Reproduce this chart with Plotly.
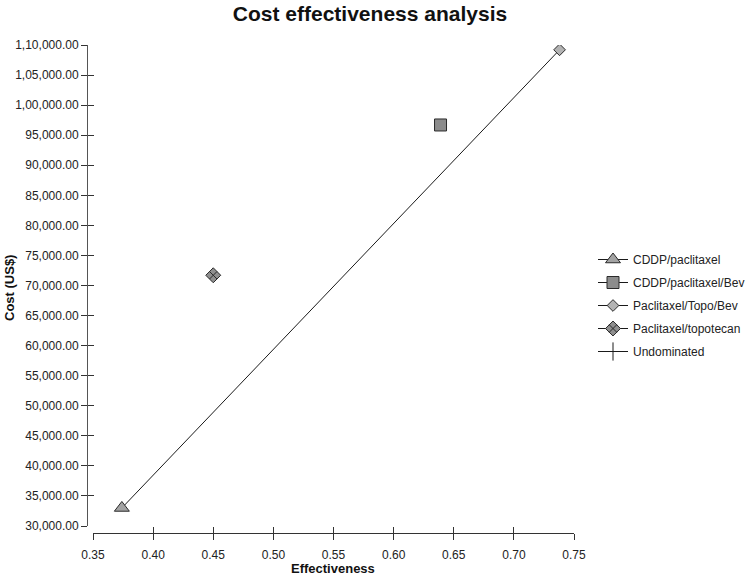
import plotly.graph_objects as go

# ---- data ----
strategies = ["CDDP/paclitaxel", "CDDP/paclitaxel/Bev", "Paclitaxel/Topo/Bev", "Paclitaxel/topotecan"]
effectiveness = [0.374, 0.639, 0.738, 0.450]
cost = [33000, 96700, 109200, 71700]
symbols = ["triangle-up", "square", "diamond", "diamond-x"]
fills = ["#a3a3a3", "#8c8c8c", "#b3b3b3", "#8f8f8f"]
sizes = [13, 12, 9, 11.5]

undominated_x = [0.374, 0.738]
undominated_y = [33000, 109200]

x_ticks = [0.35, 0.40, 0.45, 0.50, 0.55, 0.60, 0.65, 0.70, 0.75]
x_tick_labels = ["0.35", "0.40", "0.45", "0.50", "0.55", "0.60", "0.65", "0.70", "0.75"]
y_ticks = [30000, 35000, 40000, 45000, 50000, 55000, 60000, 65000, 70000, 75000,
           80000, 85000, 90000, 95000, 100000, 105000, 110000]
y_tick_labels = ["30,000.00", "35,000.00", "40,000.00", "45,000.00", "50,000.00",
                 "55,000.00", "60,000.00", "65,000.00", "70,000.00", "75,000.00",
                 "80,000.00", "85,000.00", "90,000.00", "95,000.00", "1,00,000.00",
                 "1,05,000.00", "1,10,000.00"]

W, H = 748, 576
L, R, T, B = 87, 174, 45, 43
pw, ph = W - L - R, H - T - B

fig = go.Figure()

# undominated frontier line
fig.add_trace(go.Scatter(x=undominated_x, y=undominated_y, mode="lines",
                         line=dict(color="#1a1a1a", width=1), showlegend=False,
                         hoverinfo="skip"))

for s, ex, c, sym, f, sz in zip(strategies, effectiveness, cost, symbols, fills, sizes):
    fig.add_trace(go.Scatter(x=[ex], y=[c], name=s, mode="lines+markers",
                             line=dict(color="#1a1a1a", width=1),
                             marker=dict(symbol=sym, size=sz, color=f,
                                         line=dict(color="#2a2a2a", width=1)),
                             legendgroup=s))

# legend entry for the undominated line
fig.add_trace(go.Scatter(x=[None], y=[None], name="Undominated", mode="lines+markers",
                         line=dict(color="#1a1a1a", width=1),
                         marker=dict(symbol="line-ns", size=13,
                                     line=dict(color="#1a1a1a", width=1)),
                         legendgroup="Undominated"))

xd0 = 6 / pw
yd0 = 7 / ph
base = "Liberation Sans, Arial, sans-serif"
tickfont = dict(family=base, size=12, color="#222")

fig.update_layout(
    width=W, height=H,
    margin=dict(l=L, r=R, t=T, b=B, autoexpand=False),
    paper_bgcolor="white", plot_bgcolor="white",
    title=dict(text="<b>Cost effectiveness analysis</b>", x=370 / W, xanchor="center",
               y=1 - 14 / H, yanchor="middle",
               font=dict(family="Liberation Sans Narrow, Arial Narrow, Liberation Sans, sans-serif",
                         size=21, color="#111")),
    xaxis=dict(domain=[xd0, 1], range=[0.35, 0.75], anchor="free", position=0,
               tickvals=x_ticks, ticktext=x_tick_labels, ticks="outside", ticklen=6,
               ticklabelstandoff=5,
               tickcolor="#333", showline=True, linecolor="#333", linewidth=1,
               showgrid=False, zeroline=False, tickfont=tickfont),
    yaxis=dict(domain=[yd0, 1], range=[30000, 110000], anchor="free", position=0,
               tickvals=y_ticks, ticktext=y_tick_labels, ticks="outside", ticklen=6,
               tickcolor="#333", showline=True, linecolor="#555", linewidth=1,
               showgrid=False, zeroline=False, tickfont=tickfont),
    xaxis2=dict(domain=[xd0, 1], range=[0.35, 0.75], anchor="free", position=0,
                overlaying="x", tickvals=x_ticks, ticks="inside", ticklen=6,
                tickcolor="#333", showticklabels=False, showgrid=False, zeroline=False),
    yaxis2=dict(domain=[yd0, 1], range=[30000, 110000], anchor="free", position=0,
                overlaying="y", tickvals=y_ticks, ticks="inside", ticklen=6,
                tickcolor="#333", showticklabels=False, showgrid=False, zeroline=False),
    legend=dict(x=(593 - L) / pw, xanchor="left", y=1 - (245 - T) / ph, yanchor="top",
                font=dict(family=base, size=12, color="#222"),
                tracegroupgap=4, bgcolor="rgba(0,0,0,0)"),
    showlegend=True,
    annotations=[
        dict(text="<b>Effectiveness</b>", xref="paper", yref="paper",
             x=(333 - L) / pw, y=(533 - 568) / ph, xanchor="center", yanchor="middle",
             showarrow=False, font=dict(family=base, size=13, color="#111")),
        dict(text="<b>Cost (US$)</b>", xref="paper", yref="paper",
             x=(9 - L) / pw, y=(533 - 288) / ph, xanchor="center", yanchor="middle",
             textangle=-90, showarrow=False, font=dict(family=base, size=13, color="#111")),
    ],
)

# invisible trace to activate the secondary (inside-tick) axes
fig.add_trace(go.Scatter(x=[None], y=[None], xaxis="x2", yaxis="y2", showlegend=False,
                         hoverinfo="skip"))

fig.write_html("out.html", config={"displayModeBar": False},
               post_script="document.body.style.margin='0';document.body.style.overflow='hidden';")
